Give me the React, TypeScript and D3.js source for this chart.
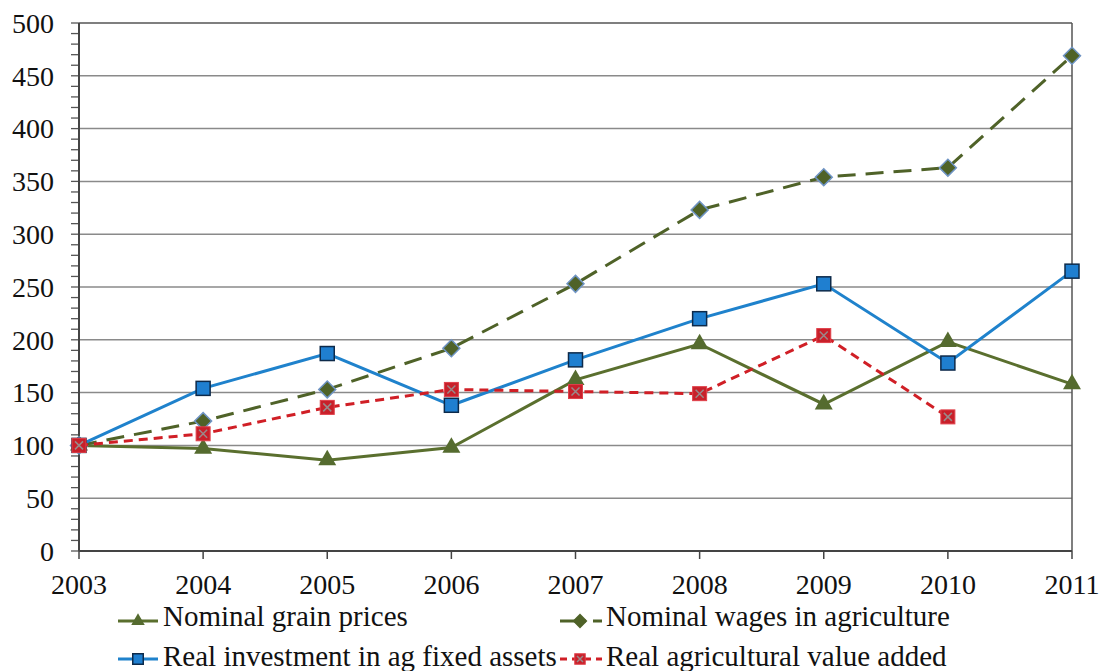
import React from "react";
import * as d3 from "d3";

const years = ["2003", "2004", "2005", "2006", "2007", "2008", "2009", "2010", "2011"];
const grainPrices = [100, 97, 86, 98, 162, 196, 139, 198, 158];
const wages = [100, 123, 153, 192, 253, 323, 354, 363, 469];
const investment = [100, 154, 187, 138, 181, 220, 253, 178, 265];
const valueAdded = [100, 111, 136, 153, 151, 149, 204, 127, null];
const yTicks = [0, 50, 100, 150, 200, 250, 300, 350, 400, 450, 500];

const W = 1102;
const H = 671;
const FONT = "Liberation Serif";
const left = 79, right = 1072, top = 23, bottom = 551;

const x = d3.scalePoint().domain(years).range([left, right]);
const y = d3.scaleLinear().domain([0, 500]).range([bottom, top]);

const series = [
  { label: "Nominal grain prices", values: grainPrices, color: "#5a6f2e", dash: null, legendDash: null, marker: "triangle" },
  { label: "Nominal wages in agriculture", values: wages, color: "#4f6228", dash: "18,10", legendDash: "26,7,10", marker: "diamond" },
  { label: "Real investment in ag fixed assets", values: investment, color: "#1f82cc", dash: null, legendDash: null, marker: "square" },
  { label: "Real agricultural value added", values: valueAdded, color: "#d01f26", dash: "9,6", legendDash: "7,5", marker: "redsquare" },
];

const Marker = ({ type, cx, cy, s = 1, legend = false }) => {
  if (type === "triangle") {
    return <path d={d3.symbol(d3.symbolTriangle, 140 * s * s)()} transform={`translate(${cx},${cy})`} fill="#556b2f" />;
  }
  if (type === "diamond") {
    return (
      <rect x={-6 * s} y={-6 * s} width={12 * s} height={12 * s} transform={`translate(${cx},${cy}) rotate(45)`}
        fill="#4f6228" stroke={legend ? "#4f6228" : "#6f94c4"} strokeWidth={1.5} />
    );
  }
  if (type === "square") {
    return <rect x={cx - 7 * s} y={cy - 7 * s} width={14 * s} height={14 * s} fill="#1f7fd0" stroke="#0d2a4a" strokeWidth={1.5} />;
  }
  return (
    <g>
      <rect x={cx - 7 * s} y={cy - 7 * s} width={14 * s} height={14 * s} fill="#c8202a" stroke="#e0404a" strokeWidth={1} />
      <path d={`M${cx - 4 * s},${cy - 4 * s}L${cx + 4 * s},${cy + 4 * s}M${cx + 4 * s},${cy - 4 * s}L${cx - 4 * s},${cy + 4 * s}`}
        stroke="#9a8a8a" strokeWidth={1.5} />
    </g>
  );
};

const line = d3.line()
  .defined((d) => d[1] != null)
  .x((d) => x(d[0]))
  .y((d) => y(d[1]));

const legendPos = [
  { lx: 118, ly: 621, ty: 626, mx: 138, x2: 158, tx: 163 },
  { lx: 560, ly: 621, ty: 626, mx: 580, x2: 602, tx: 606 },
  { lx: 118, ly: 659, ty: 666, mx: 138, x2: 158, tx: 163 },
  { lx: 560, ly: 659, ty: 666, mx: 580, x2: 602, tx: 606 },
];

const App = () => {
  const minor = d3.range(0, 501, 10);
  return (
    <svg width={W} height={H} style={{ display: "block", position: "absolute", left: 0, top: 0, background: "#fff" }}>
      {/* gridlines */}
      {yTicks.filter((t) => t > 0).map((t) => (
        <line key={t} x1={left} x2={right} y1={y(t)} y2={y(t)} stroke={t === 500 ? "#555" : "#8a8a8a"} strokeWidth={1.5} />
      ))}
      <line x1={right} x2={right} y1={top} y2={bottom} stroke="#555" strokeWidth={1.5} />

      {/* y axis */}
      {minor.map((t) => (
        <line key={t} x1={left - 8} x2={left} y1={y(t)} y2={y(t)} stroke="#555" strokeWidth={1.3} />
      ))}
      <line x1={left} x2={left} y1={top} y2={bottom} stroke="#444" strokeWidth={2} />
      {yTicks.map((t) => (
        <text key={t} x={54} y={y(t)} dy="0.35em" textAnchor="end" fontSize={28} fill="#111" style={{ fontFamily: FONT }}>
          {t}
        </text>
      ))}

      {/* x axis */}
      <line x1={left} x2={right} y1={bottom} y2={bottom} stroke="#444" strokeWidth={2} />
      {years.map((yr) => (
        <g key={yr}>
          <line x1={x(yr)} x2={x(yr)} y1={bottom} y2={bottom + 8} stroke="#444" strokeWidth={1.5} />
          <text x={x(yr)} y={594} textAnchor="middle" fontSize={28} fill="#111" style={{ fontFamily: FONT }}>
            {yr}
          </text>
        </g>
      ))}

      {/* series */}
      {series.map((s) => {
        const pts = years.map((yr, i) => [yr, s.values[i]]);
        return (
          <g key={s.label}>
            <path d={line(pts)} fill="none" stroke={s.color} strokeWidth={3} strokeDasharray={s.dash || undefined} />
            {pts.filter((p) => p[1] != null).map((p) => (
              <Marker key={p[0]} type={s.marker} cx={x(p[0])} cy={y(p[1])} />
            ))}
          </g>
        );
      })}

      {/* legend */}
      {series.map((s, i) => {
        const p = legendPos[i];
        return (
          <g key={s.label}>
            <line x1={p.lx} x2={p.x2} y1={p.ly} y2={p.ly} stroke={s.color} strokeWidth={3} strokeDasharray={s.legendDash || undefined} />
            <Marker type={s.marker} cx={p.mx} cy={p.ly} s={0.75} legend />
            <text x={p.tx} y={p.ty} fontSize={29} fill="#111" style={{ fontFamily: FONT }}>
              {s.label}
            </text>
          </g>
        );
      })}
    </svg>
  );
};

export default App;
